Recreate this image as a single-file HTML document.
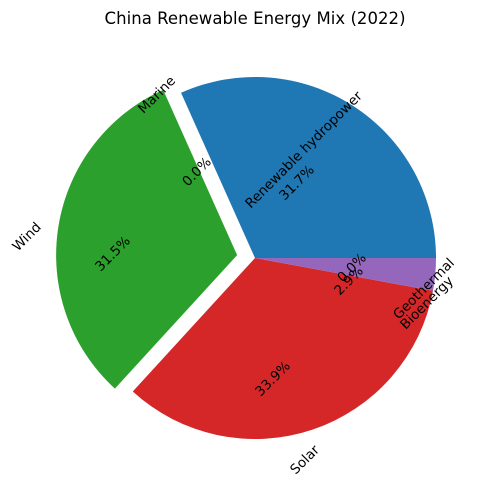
<!DOCTYPE html>
<html><head><meta charset="utf-8"><style>
body{margin:0;background:#fff}
svg text{font-family:"DejaVu Sans","Liberation Sans",sans-serif;fill:#000}
</style></head><body>
<svg id="chart" width="490" height="495" viewBox="0 0 490 495">
<rect width="490" height="495" fill="#fff"/>
<text x="255" y="24" text-anchor="middle" font-size="16.5" textLength="301">China Renewable Energy Mix (2022)</text>
<g id="slices"></g>
<g id="labels"></g>
</svg>
<script>
const categories = ["Renewable hydropower","Marine","Wind","Solar","Geothermal","Bioenergy"];
const values = [31.7, 0.0, 31.5, 33.9, 2.9, 0.0];
const explode = [0, 0, 0.1, 0, 0, 0];
const colors = ["#1f77b4","#ff7f0e","#2ca02c","#d62728","#9467bd","#8c564b"];
const pctLabels = ["31.7%","0.0%","31.5%","33.9%","2.9%","0.0%"];

const cx = 255, cy = 258, R = 181;
const NS = "http://www.w3.org/2000/svg";
const gS = document.getElementById('slices');
const gL = document.getElementById('labels');
const total = values.reduce((a,b)=>a+b,0);
function pt(x0,y0,r,deg){const a=deg*Math.PI/180;return [x0+r*Math.cos(a), y0-r*Math.sin(a)];}
function mk(tag, attrs){const e=document.createElementNS(NS,tag);for(const k in attrs)e.setAttribute(k,attrs[k]);return e;}
let start = 0;
values.forEach((v,i)=>{
  const sweep = v/total*360;
  const end = start + sweep;
  const mid = (start+end)/2;
  const off = explode[i]*R;
  const [ox,oy] = pt(cx,cy,off,mid);
  if (sweep > 0) {
    const [x1,y1] = pt(ox,oy,R,start);
    const [x2,y2] = pt(ox,oy,R,end);
    const large = sweep > 180 ? 1 : 0;
    const p = mk('path',{d:`M${ox},${oy} L${x1},${y1} A${R},${R} 0 ${large} 0 ${x2},${y2} Z`, fill:colors[i]});
    
    
    gS.appendChild(p);
  }
  start = end;
});
function addText(str, x, y, name){
  const t = mk('text',{x:x,y:y,'font-size':13.5,'text-anchor':'middle','dominant-baseline':'central',transform:`rotate(-45 ${x} ${y})`});
  t.textContent = str;
  
  
  gL.appendChild(t);
}
// text anchor placement
const labelPos = [[304,150],[157,95],[27,237],[305,460],[424,289],[427,303]];
const pctPos = [[297,183],[197,172],[113,254],[273,379],[349,281],[352,268]];
categories.forEach((c,i)=>{
  const slug = c.toLowerCase().replace(/\s+/g,'-');
  addText(c, labelPos[i][0], labelPos[i][1], 'label-' + slug);
  addText(pctLabels[i], pctPos[i][0], pctPos[i][1], 'pct-' + slug);
});
</script>
</body></html>
